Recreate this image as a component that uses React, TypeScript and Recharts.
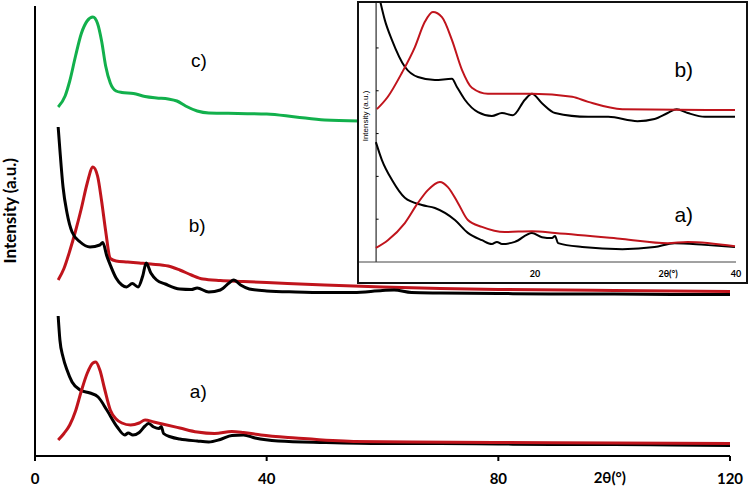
import React from 'react';
import { LineChart, Line, XAxis, YAxis, ReferenceDot, ReferenceLine } from 'recharts';

type Pt = { x: number; y: number };
const pts = (rows: number[][]): Pt[] => rows.map(([x, y]) => ({ x, y }));

// main pattern, 2θ vs intensity (offset stacks)
const aBlack = pts([
  [4, 2.8], [4.3, 2.32], [4.84, 1.98], [5.53, 1.72], [6.4, 1.48], [7.8, 1.32], [9.5, 1.26], [10.9, 1.18],
  [12.4, 0.92], [14.2, 0.58], [15.5, 0.42], [16.1, 0.46], [16.9, 0.42], [18, 0.47], [19, 0.6], [19.6, 0.65],
  [20.5, 0.58], [21.4, 0.55], [21.8, 0.59], [22.2, 0.45], [23.5, 0.38], [25, 0.34], [28, 0.3], [30, 0.28],
  [32, 0.33], [34, 0.41], [36, 0.42], [38, 0.36], [42, 0.3], [50, 0.27], [60, 0.25], [70, 0.25],
  [80, 0.24], [90, 0.23], [100, 0.23], [110, 0.22], [120, 0.21],
]);
const aRed = pts([
  [4, 0.32], [5, 0.45], [6, 0.62], [7, 0.9], [8, 1.3], [9, 1.65], [10, 1.86], [10.5, 1.88],
  [11.2, 1.72], [12, 1.35], [13, 0.92], [14, 0.74], [15, 0.66], [16.5, 0.62], [18, 0.66], [19, 0.72],
  [20.5, 0.68], [22, 0.64], [25, 0.56], [28, 0.48], [31, 0.45], [34, 0.49], [36, 0.47], [39, 0.42],
  [45, 0.36], [55, 0.29], [65, 0.28], [80, 0.27], [100, 0.26], [120, 0.25],
]);
const bBlack = pts([
  [4, 6.58], [4.3, 6.12], [4.84, 5.38], [5.53, 4.86], [6.4, 4.48], [7.8, 4.28], [9.5, 4.18], [11.2, 4.22],
  [11.7, 4.27], [12.4, 4.0], [13, 3.82], [14, 3.56], [15, 3.42], [15.8, 3.38], [16.8, 3.45], [17.8, 3.38],
  [18.6, 3.6], [19.2, 3.86], [20, 3.66], [21, 3.52], [22.5, 3.44], [25, 3.34], [27, 3.33], [28, 3.36],
  [30, 3.28], [32, 3.32], [33.5, 3.46], [34.3, 3.52], [35.5, 3.42], [37, 3.34], [40, 3.3], [45, 3.28],
  [50, 3.27], [55, 3.27], [60, 3.31], [62, 3.32], [65, 3.27], [70, 3.26], [80, 3.25], [90, 3.24],
  [100, 3.24], [110, 3.23], [120, 3.23],
]);
const bRed = pts([
  [4, 3.52], [5, 3.75], [6, 4.1], [7, 4.5], [8, 4.95], [9, 5.45], [10, 5.78], [10.8, 5.6],
  [11.5, 5.1], [12.2, 4.5], [13, 3.95], [14, 3.9], [16, 3.88], [18, 3.86], [20, 3.84], [23, 3.8],
  [25, 3.72], [27, 3.62], [29, 3.54], [32, 3.51], [36, 3.49], [40, 3.47], [50, 3.42], [60, 3.38],
  [70, 3.35], [80, 3.33], [100, 3.31], [120, 3.29],
]);
const cGreen = pts([
  [4, 6.98], [5.2, 7.2], [6, 7.5], [7, 8.0], [8, 8.45], [9, 8.7], [10, 8.78], [10.8, 8.65],
  [11.5, 8.3], [12.2, 7.8], [13, 7.46], [14, 7.3], [15, 7.27], [17, 7.25], [19, 7.19], [21, 7.16],
  [23, 7.14], [24.5, 7.1], [26, 7.0], [28, 6.9], [30, 6.86], [35, 6.85], [40, 6.84], [45, 6.78],
  [50, 6.72], [56, 6.7],
]);

// inset, 4-40°
const inBBlack = pts([
  [4.58, 6.12], [5.07, 5.65], [5.77, 5.19], [7.06, 4.56], [8.36, 4.32], [10.05, 4.25], [11.74, 4.28],
  [12.24, 4.09], [13.03, 3.79], [14.33, 3.5], [15.72, 3.41], [16.72, 3.48], [17.81, 3.43], [19.0, 3.79],
  [19.7, 3.93], [20.7, 3.71], [22.0, 3.48], [25.3, 3.39], [27.3, 3.39], [30.2, 3.29], [31.9, 3.34],
  [33.2, 3.48], [34.1, 3.57], [35.2, 3.48], [36.9, 3.39], [39.9, 3.39],
]);
const inBRed = pts([
  [4.28, 3.57], [5.37, 3.86], [6.77, 4.42], [8.06, 5.02], [9.05, 5.61], [9.85, 5.84], [10.75, 5.72],
  [11.74, 5.19], [12.74, 4.49], [13.73, 4.07], [15.32, 3.93], [19.7, 3.93], [23.7, 3.86], [25.3, 3.74],
  [28.7, 3.57], [39.9, 3.55],
]);
const inABlack = pts([
  [4.18, 2.8], [4.78, 2.38], [5.77, 1.92], [7.06, 1.5], [8.76, 1.33], [10.05, 1.26], [12.04, 0.98],
  [13.33, 0.68], [14.73, 0.51], [15.72, 0.42], [16.22, 0.47], [16.72, 0.42], [18.0, 0.47], [19.7, 0.68],
  [20.7, 0.58], [21.7, 0.56], [22.0, 0.61], [22.3, 0.44], [24.7, 0.35], [28.7, 0.3], [31.9, 0.35],
  [33.9, 0.44], [36.9, 0.4], [39.9, 0.35],
]);
const inARed = pts([
  [4.18, 0.33], [5.37, 0.51], [7.06, 0.91], [8.36, 1.38], [9.35, 1.68], [10.55, 1.87], [11.34, 1.75],
  [12.34, 1.38], [13.33, 0.98], [14.73, 0.82], [17.0, 0.7], [19.7, 0.72], [22.0, 0.68], [28.7, 0.54],
  [33.2, 0.44], [35.2, 0.47], [39.9, 0.37],
]);

const mainXTicks = [0, 40, 80, 120];
const mainYTicks = [0, 1, 2, 3, 4, 5, 6, 7, 8, 9];
const insetXTicks = [20, 40];
const insetYTicks = [1, 2, 3, 4, 5];

const RED = '#c0141c';
const BLACK = '#000000';
const GREEN = '#12b04c';
const LABEL_FONT = '"Liberation Sans", Arial, sans-serif';
const AXIS_FONT = 'Lato, "Open Sans", sans-serif';

export default function App() {
  return (
    <div style={{ position: 'absolute', left: 0, top: 0, width: 750, height: 488, background: '#fff' }}>
      <LineChart width={750} height={488} margin={{ top: 6, right: 20, bottom: 0, left: 0 }}>
        <XAxis
          type="number"
          dataKey="x"
          domain={[0, 120]}
          ticks={mainXTicks}
          height={32}
          tickSize={5}
          tickMargin={12}
          axisLine={{ stroke: '#000', strokeWidth: 2 }}
          tickLine={{ stroke: '#000', strokeWidth: 2 }}
          tick={{ fill: '#000', fontSize: 15, fontWeight: 700, fontFamily: AXIS_FONT }}
          label={{
            content: ({ viewBox }: any) => (
              <text x={viewBox.x + viewBox.width * 0.827} y={viewBox.y + 27} textAnchor="middle"
                fill="#000" fontSize={15} fontWeight={700} fontFamily={AXIS_FONT}>2θ(°)</text>
            ),
          }}
        />
        <YAxis
          type="number"
          dataKey="y"
          domain={[0, 9]}
          ticks={mainYTicks}
          width={35}
          tick={false}
          tickSize={3}
          axisLine={{ stroke: '#000', strokeWidth: 2 }}
          tickLine={{ stroke: '#000', strokeWidth: 1.5 }}
          label={{
            content: ({ viewBox }: any) => {
              const x = viewBox.x + 16;
              const y = viewBox.y + viewBox.height * 0.455;
              return (
                <text x={x} y={y} transform={`rotate(-90, ${x}, ${y})`} textAnchor="middle"
                  fill="#000" fontSize={17} fontWeight={700} fontFamily={AXIS_FONT}>Intensity (a.u.)</text>
              );
            },
          }}
        />
        <Line data={cGreen} dataKey="y" type="monotone" stroke={GREEN} strokeWidth={3} dot={false} isAnimationActive={false} />
        <Line data={bRed} dataKey="y" type="monotone" stroke={RED} strokeWidth={3} dot={false} isAnimationActive={false} />
        <Line data={bBlack} dataKey="y" type="monotone" stroke={BLACK} strokeWidth={3} dot={false} isAnimationActive={false} />
        <Line data={aBlack} dataKey="y" type="monotone" stroke={BLACK} strokeWidth={3} dot={false} isAnimationActive={false} />
        <Line data={aRed} dataKey="y" type="monotone" stroke={RED} strokeWidth={3} dot={false} isAnimationActive={false} />
        <ReferenceDot x={28.3} y={7.92} r={0} label={{ value: 'c)', position: 'center', fill: '#000', fontSize: 19, fontFamily: LABEL_FONT }} />
        <ReferenceDot x={28} y={4.62} r={0} label={{ value: 'b)', position: 'center', fill: '#000', fontSize: 19, fontFamily: LABEL_FONT }} />
        <ReferenceDot x={28.2} y={1.3} r={0} label={{ value: 'a)', position: 'center', fill: '#000', fontSize: 19, fontFamily: LABEL_FONT }} />
      </LineChart>

      <div style={{ position: 'absolute', left: 357, top: 1, width: 391, height: 283, boxSizing: 'border-box', border: '2px solid #111', background: '#fff' }}>
        <LineChart width={387} height={279} margin={{ top: 0, right: 10, bottom: 0, left: 0 }}>
          <XAxis
            type="number"
            dataKey="x"
            domain={[2.5, 40]}
            ticks={insetXTicks}
            height={20}
            tickSize={0}
            tickMargin={9}
            allowDataOverflow
            axisLine={{ stroke: '#444', strokeWidth: 1 }}
            tickLine={false}
            tick={{ fill: '#000', fontSize: 9, fontWeight: 700, fontFamily: AXIS_FONT }}
            label={{
              content: ({ viewBox }: any) => (
                <text x={viewBox.x + viewBox.width * 0.82} y={viewBox.y + 15} textAnchor="middle"
                  fill="#000" fontSize={9} fontWeight={700} fontFamily={AXIS_FONT}>2θ(°)</text>
              ),
            }}
          />
          <YAxis type="number" dataKey="y" domain={[0, 6.05]} allowDataOverflow hide />
          <ReferenceLine x={4.2} stroke="#000" strokeWidth={1} />
          {insetYTicks.map((t) => (
            <ReferenceLine key={t} segment={[{ x: 4.2, y: t }, { x: 4.45, y: t }]} stroke="#000" strokeWidth={1} />
          ))}
          <Line data={inBBlack} dataKey="y" type="monotone" stroke={BLACK} strokeWidth={2} dot={false} isAnimationActive={false} />
          <Line data={inBRed} dataKey="y" type="monotone" stroke={RED} strokeWidth={2} dot={false} isAnimationActive={false} />
          <Line data={inABlack} dataKey="y" type="monotone" stroke={BLACK} strokeWidth={2} dot={false} isAnimationActive={false} />
          <Line data={inARed} dataKey="y" type="monotone" stroke={RED} strokeWidth={2} dot={false} isAnimationActive={false} />
          <ReferenceDot x={3.1} y={3.41} r={0} label={{ value: 'Intensity (a.u.)', position: 'center', angle: -90, fill: '#000', fontSize: 8, fontFamily: LABEL_FONT }} />
          <ReferenceDot x={34.8} y={4.49} r={0} label={{ value: 'b)', position: 'center', fill: '#000', fontSize: 21, fontFamily: LABEL_FONT }} />
          <ReferenceDot x={34.8} y={1.1} r={0} label={{ value: 'a)', position: 'center', fill: '#000', fontSize: 21, fontFamily: LABEL_FONT }} />
        </LineChart>
      </div>
    </div>
  );
}
